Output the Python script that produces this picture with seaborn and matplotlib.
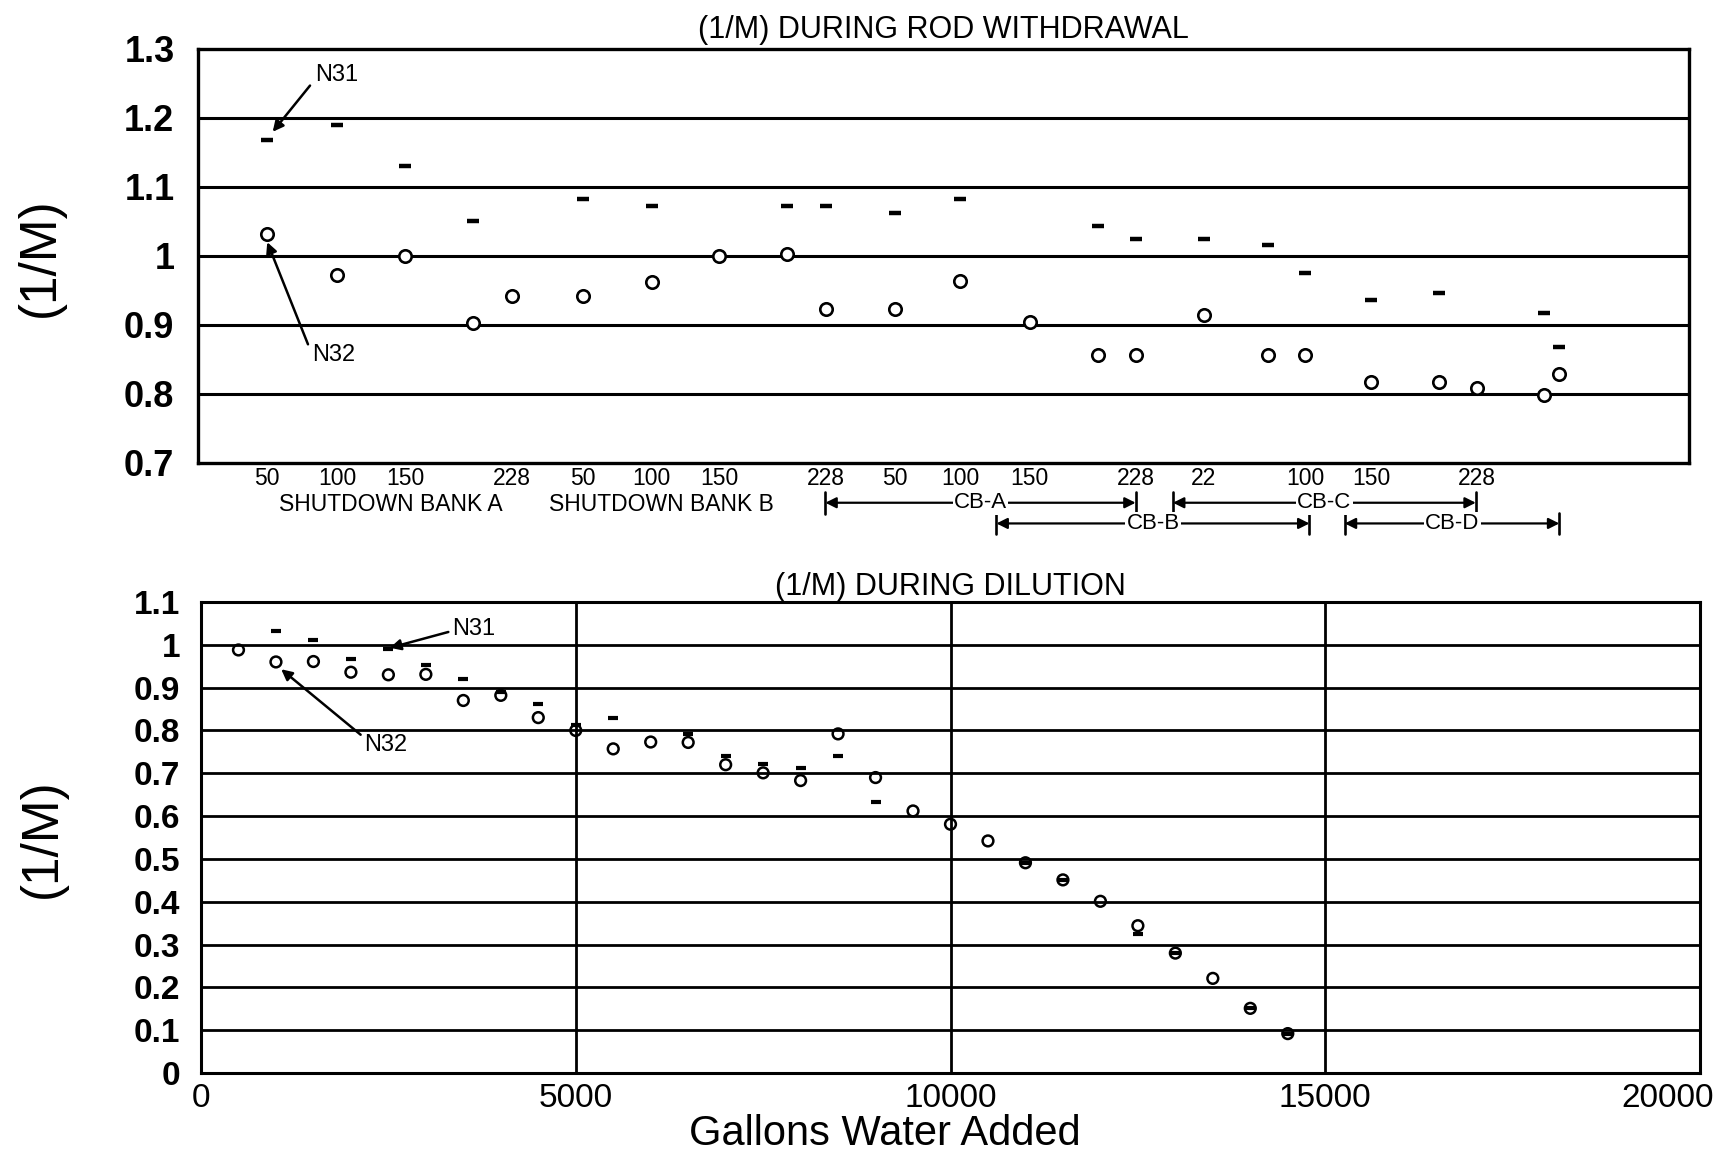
import numpy as np
import matplotlib
matplotlib.use("Agg")
import matplotlib.pyplot as plt
import matplotlib.transforms as mtransforms
import seaborn as sns

# top panel: rod withdrawal steps (x = step position along the withdrawal sequence)
rod_step = [0.0, 1.03, 2.03, 3.03, 3.61, 4.65, 5.66, 6.66, 7.65, 8.23, 9.24, 10.21,
            11.23, 12.23, 12.79, 13.79, 14.74, 15.29, 16.26, 17.26, 17.82, 18.81, 19.03]
rod_n31 = [1.168, 1.190, 1.130, 1.050, np.nan, 1.082, 1.072, np.nan, 1.072, 1.072, 1.063, 1.083,
           np.nan, 1.044, 1.025, 1.025, 1.016, 0.975, 0.936, 0.947, np.nan, 0.917, 0.868]
rod_n32 = [1.032, 0.972, 1.000, 0.903, 0.942, 0.942, 0.962, 1.000, 1.003, 0.923, 0.923, 0.964,
           0.904, 0.856, 0.856, 0.915, 0.857, 0.857, 0.818, 0.818, 0.809, 0.798, 0.829]
rod_tick_pos = [0.0, 1.03, 2.03, 3.61, 4.65, 5.66, 6.66, 8.23, 9.24, 10.21, 11.23, 12.79,
                13.79, 15.29, 16.26, 17.82]
rod_tick_lab = ["50", "100", "150", "228", "50", "100", "150", "228", "50", "100", "150",
                "228", "22", "100", "150", "228"]
bank_names = ["SHUTDOWN BANK A", "SHUTDOWN BANK B"]
bank_centers = [1.82, 5.80]
cb_names = ["CB-A", "CB-B", "CB-C", "CB-D"]
cb_start = [8.22, 10.74, 13.34, 15.87]
cb_end = [12.79, 15.35, 17.80, 19.03]
cb_row = [0, 1, 0, 1]

# bottom panel: dilution
gallons = [500, 1000, 1500, 2000, 2500, 3000, 3500, 4000, 4500, 5000, 5500, 6000, 6500,
           7000, 7500, 8000, 8500, 9000, 9500, 10000, 10500, 11000, 11500, 12000, 12500,
           13000, 13500, 14000, 14500]
dil_n32 = [0.988, 0.960, 0.961, 0.936, 0.930, 0.931, 0.870, 0.882, 0.830, 0.800, 0.757, 0.773,
           0.772, 0.720, 0.701, 0.683, 0.792, 0.690, 0.612, 0.581, 0.542, 0.491, 0.451, 0.401,
           0.344, 0.280, 0.221, 0.151, 0.092]
dil_n31 = [np.nan, 1.032, 1.012, 0.967, 0.990, 0.953, 0.921, 0.889, 0.862, 0.813, 0.828, np.nan,
           0.791, 0.740, 0.721, 0.713, 0.741, 0.632, np.nan, np.nan, np.nan, 0.491, 0.451, np.nan,
           0.325, 0.280, np.nan, 0.151, 0.092]

sns.set_theme(style="white")
plt.rcParams["font.family"] = ["Liberation Sans", "DejaVu Sans"]
plt.rcParams["text.color"] = "black"
plt.rcParams["xtick.color"] = "black"
plt.rcParams["ytick.color"] = "black"
plt.rcParams["axes.labelcolor"] = "black"

W, H = 1717, 1154
fig = plt.figure(figsize=(W / 100, H / 100), dpi=100)
ax1 = fig.add_axes([198 / W, 1 - 463 / H, (1689 - 198) / W, (463 - 49) / H])
ax2 = fig.add_axes([201 / W, 1 - 1073 / H, (1700 - 201) / W, (1073 - 602) / H])

# ---- top panel
ax1.set_xlim(-1.02, 20.94)
ax1.set_ylim(0.7, 1.3)
ax1.set_yticks([0.7, 0.8, 0.9, 1.0, 1.1, 1.2, 1.3])
ax1.set_yticklabels(["0.7", "0.8", "0.9", "1", "1.1", "1.2", "1.3"], fontsize=26, fontweight="bold")
ax1.set_xticks(rod_tick_pos)
ax1.set_xticklabels(rod_tick_lab, fontsize=16.5)
ax1.tick_params(axis="both", length=0)
ax1.tick_params(axis="y", pad=17)
ax1.tick_params(axis="x", pad=3)
for v in [0.8, 0.9, 1.0, 1.1, 1.2]:
    ax1.axhline(v, color="black", lw=2.2, zorder=1)
for s in ax1.spines.values():
    s.set_color("black")
    s.set_linewidth(2.4)

sns.scatterplot(x=rod_step, y=rod_n31, marker="_", color="black", s=70, linewidth=3.2, ax=ax1, zorder=3)
sns.scatterplot(x=rod_step, y=rod_n32, marker="o", facecolors="white", edgecolor="black",
                s=80, linewidth=1.9, ax=ax1, zorder=4)
ax1.set_title("(1/M) DURING ROD WITHDRAWAL", fontsize=22, pad=8)

arrow_kw = dict(arrowstyle="-|>", color="black", lw=1.8, mutation_scale=16, shrinkA=0, shrinkB=0)
ax1.annotate("", xy=(0.08, 1.18), xytext=(0.63, 1.247), arrowprops=arrow_kw)
ax1.text(0.7, 1.262, "N31", fontsize=17, ha="left", va="center")
ax1.annotate("", xy=(0.0, 1.02), xytext=(0.6, 0.872), arrowprops=arrow_kw)
ax1.text(0.66, 0.857, "N32", fontsize=17, ha="left", va="center")

trans = mtransforms.blended_transform_factory(ax1.transData, ax1.transAxes)
for name, xc in zip(bank_names, bank_centers):
    ax1.text(xc, -0.101, name, fontsize=16.5, ha="center", va="center", transform=trans)
row_y = [-0.096, -0.146]
for name, x0, x1, r in zip(cb_names, cb_start, cb_end, cb_row):
    y = row_y[r]
    ax1.annotate("", xy=(x1, y), xytext=(x0, y), xycoords=trans, textcoords=trans,
                 arrowprops=dict(arrowstyle="<|-|>", color="black", lw=1.6, mutation_scale=16,
                                 shrinkA=0, shrinkB=0), annotation_clip=False)
    for xe in (x0, x1):
        ax1.plot([xe, xe], [y - 0.026, y + 0.026], color="black", lw=1.9, transform=trans, clip_on=False)
    ax1.text((x0 + x1) / 2, y, name, fontsize=16, ha="center", va="center",
             transform=trans, bbox=dict(facecolor="white", edgecolor="none", pad=1))

# ---- bottom panel
ax2.set_xlim(0, 20000)
ax2.set_ylim(0, 1.1)
ax2.set_yticks(np.round(np.arange(0, 1.11, 0.1), 1))
ax2.set_yticklabels(["0", "0.1", "0.2", "0.3", "0.4", "0.5", "0.6", "0.7", "0.8", "0.9", "1", "1.1"],
                    fontsize=24, fontweight="bold")
ax2.set_xticks([0, 5000, 10000, 15000, 20000])
ax2.set_xticklabels(["0", "5000", "10000", "15000", "20000"], fontsize=24)
ax2.tick_params(axis="both", length=0)
ax2.tick_params(axis="y", pad=15)
ax2.tick_params(axis="x", pad=7)
last = ax2.get_xticklabels()[-1]
last.set_horizontalalignment("right")
last.set_transform(last.get_transform() + mtransforms.ScaledTranslation(14 / 100, 0, fig.dpi_scale_trans))
for v in np.arange(0.1, 1.05, 0.1):
    ax2.axhline(v, color="black", lw=2.0, zorder=1)
for v in [5000, 10000, 15000]:
    ax2.axvline(v, color="black", lw=2.0, zorder=1)
for s in ax2.spines.values():
    s.set_color("black")
    s.set_linewidth(2.2)

sns.scatterplot(x=gallons, y=dil_n31, marker="_", color="black", s=55, linewidth=3.0, ax=ax2, zorder=3)
sns.scatterplot(x=gallons, y=dil_n32, marker="o", facecolors="none", edgecolor="black",
                s=60, linewidth=1.8, ax=ax2, zorder=4)
ax2.set_title("(1/M) DURING DILUTION", fontsize=22, pad=5)

ax2.annotate("", xy=(2520, 0.993), xytext=(3300, 1.030), arrowprops=arrow_kw)
ax2.text(3350, 1.038, "N31", fontsize=17, ha="left", va="center")
ax2.annotate("", xy=(1070, 0.943), xytext=(2130, 0.79), arrowprops=arrow_kw)
ax2.text(2170, 0.767, "N32", fontsize=17, ha="left", va="center")

ax2.text((885 - 201) / 1499, -(1134 - 1073) / 471, "Gallons Water Added", fontsize=30,
         ha="center", va="center", transform=ax2.transAxes)

fig.text(40 / W, 1 - 257 / H, "(1/M)", fontsize=37, rotation=90, ha="center", va="center")
fig.text(42 / W, 1 - 838 / H, "(1/M)", fontsize=37, rotation=90, ha="center", va="center")

fig.savefig("out.png", dpi=100)
